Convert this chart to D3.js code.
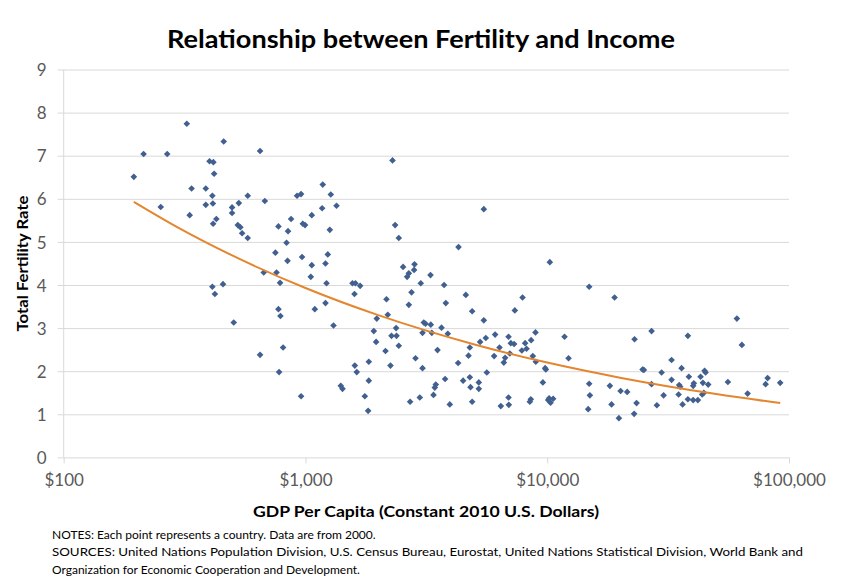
<!DOCTYPE html>
<html>
<head>
<meta charset="utf-8">
<script src="https://cdn.jsdelivr.net/npm/d3@7"></script>
<style>
  html, body { margin: 0; padding: 0; background: #ffffff; }
  svg { display: block; font-family: Lato, "Open Sans", sans-serif; }
</style>
</head>
<body>
<svg id="chart" width="843" height="580"></svg>
<script>
// ---- Data ----
const gdp = [195,214,268,323,459,649,401,416,419,338,387,412,577,252,387,414,332,497,530,497,679,923,959,428,415,525,538,547,577,773,872,847,975,996,835,751,843,968,672,759,785,412,456,422,773,788,505,808,649,778,959,
2291,1179,1273,1172,1344,1062,1261,2349,2432,5466,4296,1237,1210,1062,1052,1222,1565,1610,1683,1595,2534,2825,2814,2676,2633,3290,2999,2746,3745,4605,7904,2163,10250,
1093,1210,1306,2676,3806,4892,7344,2190,1972,1917,1960,2143,2269,2380,2371,2432,3086,3137,3299,3049,3331,3653,3879,3517,2852,3049,5466,5277,5571,6087,6917,7070,7295,8102,8943,8577,7852,8211,6348,6030,6696,6614,7002,8717,8969,9802,9592,10090,4784,4725,4280,5625,4784,4488,5212,4816,5212,4892,3781,3954,3460,3427,3385,2971,2709,2247,1828,1600,1630,1828,1400,1423,1760,1816,6917,6936,6427,8552,8472,
14910,18990,11790,12250,9868,10180,10320,10580,14910,15010,14770,18160,18450,20110,21410,19790,22970,27010,24790,25100,23410,22880,27010,29720,30290,28410,32680,32680,35950,35140,35470,34940,36290,38170,38530,40410,40150,38170,40150,41980,43080,44040,44760,45180,46320,43750,44460,55870,60880,63850,67420,80040,81580,91940];

const tfr = [6.51,7.04,7.04,7.74,7.33,7.11,6.87,6.85,6.58,6.24,6.24,6.07,6.07,5.81,5.86,5.89,5.62,5.80,5.90,5.67,5.95,6.07,6.11,5.53,5.42,5.39,5.34,5.20,5.09,5.36,5.53,5.25,5.42,5.39,4.98,4.75,4.56,4.65,4.29,4.29,4.05,3.96,4.02,3.79,3.44,3.28,3.13,2.55,2.38,1.98,1.42,
6.89,6.33,6.10,5.78,5.84,5.62,5.28,5.39,5.09,5.76,4.88,4.71,4.50,4.46,4.19,4.04,4.04,4.04,3.98,3.79,4.42,4.48,4.35,4.27,4.19,4.23,4.04,3.83,4.00,3.77,3.71,3.67,4.53,
3.44,3.58,3.06,3.54,3.58,3.39,3.41,3.31,3.22,2.93,2.68,2.47,2.82,2.82,3.00,2.59,3.13,3.10,3.08,2.89,2.89,3.01,2.87,2.49,2.30,2.07,3.18,2.68,2.77,2.85,2.80,2.65,2.63,2.65,2.90,2.72,2.48,2.52,2.55,2.35,2.31,2.20,2.41,2.35,2.22,2.07,1.74,1.33,2.55,2.36,2.19,1.97,1.86,1.78,1.74,1.63,1.59,1.29,1.82,1.23,1.69,1.62,1.45,1.39,1.29,2.13,2.22,2.13,1.98,1.78,1.66,1.59,1.42,1.08,1.39,1.22,1.19,1.35,1.29,
3.96,3.71,2.80,2.30,2.04,1.37,1.27,1.36,1.71,1.44,1.12,1.66,1.23,1.54,1.52,0.91,2.74,2.93,2.04,2.03,1.26,1.01,1.70,1.97,1.44,1.21,2.26,1.80,2.07,1.68,1.64,1.46,1.23,2.82,1.87,1.72,1.66,1.35,1.33,1.33,1.87,1.73,2.01,1.97,1.69,1.46,1.50,1.75,3.22,2.61,1.48,1.70,1.84,1.73];

// Trend line (power trendline) read at a few GDP values
const trendGdp = [195, 300, 500, 1000, 2000, 5000, 10000, 20000, 50000, 92000];
const trendTfr = [5.93, 5.32, 4.68, 3.93, 3.30, 2.62, 2.20, 1.85, 1.47, 1.26];

const xTicks = [100, 1000, 10000, 100000];
const yTicks = [0, 1, 2, 3, 4, 5, 6, 7, 8, 9];

const titleText = "Relationship between Fertility and Income";
const xTitle = "GDP Per Capita (Constant  2010 U.S. Dollars)";
const yTitle = "Total Fertility Rate";
const notes = [
  "NOTES: Each point represents a country. Data are from  2000.",
  "SOURCES: United Nations Population Division, U.S. Census Bureau, Eurostat, United Nations Statistical Division, World Bank and",
  "Organization for Economic Cooperation and Development."
];

// ---- Layout ----
const svg = d3.select("#chart");
const pL = 63.7, pR = 789, pT = 69.5, pB = 457.4;
const x = d3.scaleLog().domain([100, 100000]).range([pL, pR]);
const y = d3.scaleLinear().domain([0, 9]).range([pB, pT]);

const gridColor = "#d9d9d9";
const textColor = "#595959";

// Title
svg.append("text")
  .attr("x", 421).attr("y", 48)
  .attr("text-anchor", "middle")
  .attr("font-size", 24).attr("font-weight", "bold")
  .attr("fill", "#000")
  .attr("textLength", 508).attr("lengthAdjust", "spacingAndGlyphs")
  .text(titleText);

// Y axis with gridlines
const yAxis = svg.append("g")
  .attr("transform", `translate(${pL - 6},0)`)
  .call(d3.axisLeft(y).tickValues(yTicks).tickSizeInner(-(pR - pL + 6)).tickSizeOuter(0).tickPadding(11));
yAxis.select(".domain").remove();
yAxis.selectAll(".tick line").attr("stroke", gridColor).attr("stroke-width", 1);
yAxis.selectAll(".tick text")
  .attr("fill", textColor).attr("font-size", 17).attr("font-family", "Lato, sans-serif")
  .attr("dy", "0.36em");

// Vertical axis line
svg.append("line")
  .attr("x1", pL).attr("x2", pL)
  .attr("y1", pT).attr("y2", pB)
  .attr("stroke", gridColor).attr("stroke-width", 1);

// X axis
const xAxis = svg.append("g")
  .attr("transform", `translate(0,${pB})`)
  .call(d3.axisBottom(x).tickValues(xTicks).tickSize(6).tickPadding(11)
    .tickFormat(d => "$" + d3.format(",")(d)));
xAxis.select(".domain").remove();
xAxis.selectAll(".tick line").attr("stroke", gridColor);
xAxis.selectAll(".tick text")
  .attr("fill", textColor).attr("font-size", 17).attr("font-family", "Lato, sans-serif");

// Axis titles
svg.append("text")
  .attr("x", 426).attr("y", 517)
  .attr("text-anchor", "middle")
  .attr("font-size", 16).attr("font-weight", "bold").attr("fill", "#000")
  .attr("textLength", 346).attr("lengthAdjust", "spacingAndGlyphs")
  .text(xTitle);

svg.append("text")
  .attr("transform", `translate(28,${(pT + pB) / 2}) rotate(-90)`)
  .attr("text-anchor", "middle")
  .attr("font-size", 16).attr("font-weight", "bold").attr("fill", "#000")
  .attr("textLength", 136).attr("lengthAdjust", "spacingAndGlyphs")
  .text(yTitle);

// Points (diamonds)
const pts = gdp.map((g, i) => ({ g, t: tfr[i] }));
const diamond = d3.symbol().type(d3.symbolSquare).size(22);
svg.append("g").selectAll("path")
  .data(pts)
  .join("path")
  .attr("d", diamond)
  .attr("transform", d => `translate(${x(d.g)},${y(d.t)}) rotate(45)`)
  .attr("fill", "#41608f");

// Trend line
const trend = trendGdp.map((g, i) => ({ g, t: trendTfr[i] }));
svg.append("path")
  .datum(trend)
  .attr("fill", "none")
  .attr("stroke", "#e3862f")
  .attr("stroke-width", 2)
  .attr("d", d3.line().x(d => x(d.g)).y(d => y(d.t)).curve(d3.curveMonotoneX));

// Notes
const noteY = [539, 556, 574];
const noteLen = [null, 751, null];
notes.forEach((n, i) => {
  const t = svg.append("text")
    .attr("x", 52).attr("y", noteY[i])
    .attr("font-size", 12).attr("fill", "#000")
    .text(n);
  if (noteLen[i]) t.attr("textLength", noteLen[i]).attr("lengthAdjust", "spacingAndGlyphs");
});
</script>
</body>
</html>
